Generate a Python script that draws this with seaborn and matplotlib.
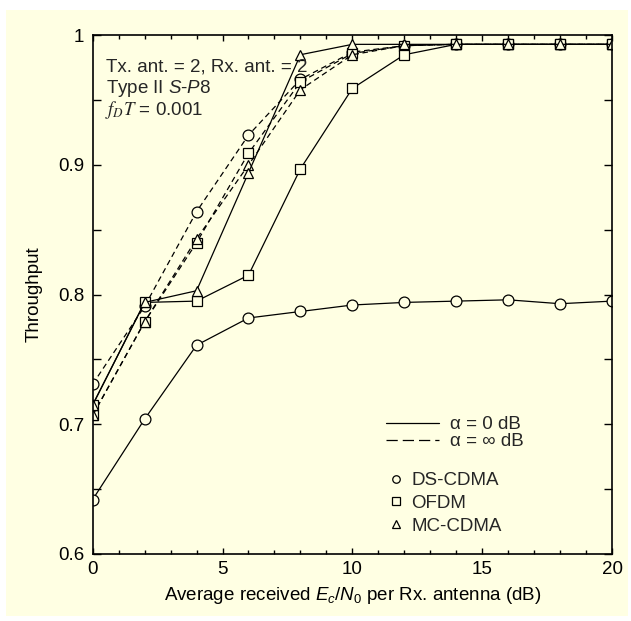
import matplotlib
matplotlib.use("Agg")
import matplotlib.pyplot as plt
import seaborn as sns
from matplotlib.lines import Line2D
from matplotlib.patches import Rectangle
from matplotlib.ticker import FuncFormatter, MultipleLocator

# Average received Ec/N0 per Rx. antenna (dB)
snr_db = [0, 2, 4, 6, 8, 10, 12, 14, 16, 18, 20]

# alpha = 0 dB (solid)
ds_cdma_0db = [0.642, 0.704, 0.761, 0.782, 0.787, 0.792, 0.794, 0.795, 0.796, 0.793, 0.795]
ofdm_0db = [0.715, 0.794, 0.795, 0.815, 0.897, 0.959, 0.985, 0.993, 0.993, 0.993, 0.993]
mc_cdma_0db = [0.715, 0.794, 0.803, 0.894, 0.985, 0.993, 0.993, 0.993, 0.993, 0.993, 0.993]

# alpha = inf dB (dashed)
ds_cdma_inf = [0.731, 0.791, 0.864, 0.923, 0.966, 0.987, 0.992, 0.993, 0.993, 0.993, 0.993]
ofdm_inf = [0.707, 0.779, 0.840, 0.909, 0.964, 0.986, 0.992, 0.993, 0.993, 0.993, 0.993]
mc_cdma_inf = [0.707, 0.779, 0.843, 0.900, 0.958, 0.985, 0.992, 0.993, 0.993, 0.993, 0.993]

BG = "#FFFFE3"
SOLID = "-"
DASHED = (0, (4.5, 3))
FS = 13.5

sns.set_theme(style="ticks")
plt.rcParams["font.family"] = ["Liberation Sans", "DejaVu Sans"]
plt.rcParams["mathtext.fontset"] = "custom"
plt.rcParams["mathtext.rm"] = "Liberation Sans"
plt.rcParams["mathtext.it"] = "Liberation Sans:italic"

fig = plt.figure(figsize=(6.31, 6.21), dpi=100, facecolor="white")
panel = Rectangle((6 / 631, 5 / 621), 622 / 631, 606 / 621,
                  transform=fig.transFigure, facecolor=BG,
                  edgecolor="none", zorder=-10)
fig.add_artist(panel)
ax = fig.add_axes([0.1469, 0.1079, 0.8230, 0.8353])
ax.set_facecolor(BG)

series = [
    (ds_cdma_inf, "o", DASHED),
    (ofdm_inf, "s", DASHED),
    (mc_cdma_inf, "^", DASHED),
    (ds_cdma_0db, "o", SOLID),
    (ofdm_0db, "s", SOLID),
    (mc_cdma_0db, "^", SOLID),
]
marker_size = {"o": 7.8, "s": 7.4, "^": 7.8}

for values, marker, style in series:
    sns.lineplot(x=snr_db, y=values, ax=ax, color="black", linewidth=0.9,
                 linestyle=style, marker=marker, markersize=marker_size[marker],
                 markerfacecolor=BG, markeredgecolor="black",
                 markeredgewidth=0.9, legend=False)

ax.set_xlim(0, 20)
ax.set_ylim(0.6, 1.0)
ax.xaxis.set_major_locator(MultipleLocator(5))
ax.xaxis.set_minor_locator(MultipleLocator(1))
ax.yaxis.set_major_locator(MultipleLocator(0.1))
ax.yaxis.set_minor_locator(MultipleLocator(0.05))
ax.yaxis.set_major_formatter(FuncFormatter(lambda v, _: f"{v:g}"))
ax.tick_params(which="both", direction="in", top=True, right=True,
               color="black", width=1.0, labelsize=FS, labelcolor="black")
ax.tick_params(axis="x", which="major", length=4.5, pad=5)
ax.tick_params(axis="x", which="minor", length=3)
ax.tick_params(axis="y", which="both", length=6, pad=6)
for spine in ax.spines.values():
    spine.set_color("black")
    spine.set_linewidth(1.2)

ax.set_xlabel(r"Average received $E_c$/$N_0$ per Rx. antenna (dB)", fontsize=FS,
              color="black", labelpad=5)
ax.set_ylabel("Throughput", fontsize=FS, color="black", labelpad=11)

ax.text(0.026, 0.9395, "Tx. ant. = 2, Rx. ant. = 2", transform=ax.transAxes,
        fontsize=FS, va="center", ha="left")
ax.text(0.026, 0.8978, r"Type II $S$-$P$8", transform=ax.transAxes,
        fontsize=FS, va="center", ha="left")
ax.text(0.024, 0.856, r"$f_DT$ = 0.001", transform=ax.transAxes,
        fontsize=FS, va="center", ha="left", math_fontfamily="stix")

line_handles = [
    Line2D([], [], color="black", linewidth=0.9, linestyle=SOLID),
    Line2D([], [], color="black", linewidth=0.9, linestyle=(0, (9, 4))),
]
leg1 = ax.legend(line_handles, ["α = 0 dB", "α = ∞ dB"], loc="upper left",
                 bbox_to_anchor=(0.565, 0.266), frameon=False, fontsize=FS,
                 handlelength=2.8, handletextpad=0.6, labelspacing=0.0,
                 borderpad=0, borderaxespad=0)
ax.add_artist(leg1)

marker_handles = [
    Line2D([], [], linestyle="none", marker=m, markersize=5.4,
           markerfacecolor=BG, markeredgecolor="black", markeredgewidth=0.9)
    for m in ["o", "s", "^"]
]
ax.legend(marker_handles, ["DS-CDMA", "OFDM", "MC-CDMA"], loc="upper left",
          bbox_to_anchor=(0.569, 0.158), frameon=False, fontsize=FS,
          handlelength=0.8, handletextpad=0.45, labelspacing=0.3,
          borderpad=0, borderaxespad=0)

fig.savefig("out.png", dpi=100, facecolor="white")
